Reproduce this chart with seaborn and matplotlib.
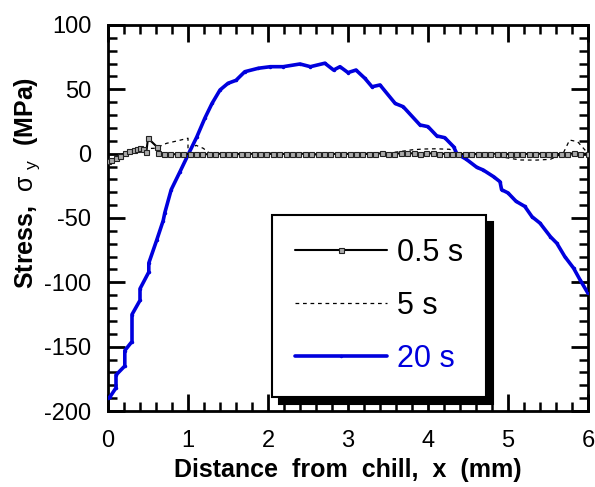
import matplotlib
matplotlib.use("Agg")
import matplotlib.pyplot as plt
import seaborn as sns
import pandas as pd
from matplotlib.ticker import MultipleLocator

# ---------------- data ----------------
t05_x = [0.0, 0.04, 0.1, 0.15, 0.21, 0.26, 0.32, 0.36, 0.4, 0.44, 0.48, 0.5, 0.61, 0.63,
         0.70, 0.78, 0.86, 0.94, 1.02, 1.10, 1.18, 1.26, 1.34, 1.42, 1.50, 1.58, 1.66, 1.74,
         1.82, 1.90, 1.98, 2.06, 2.14, 2.22, 2.30, 2.38, 2.46, 2.54, 2.62, 2.70, 2.78, 2.86,
         2.94, 3.02, 3.10, 3.18, 3.26, 3.34, 3.42, 3.50, 3.58, 3.66, 3.74, 3.82, 3.90, 3.98,
         4.06, 4.14, 4.22, 4.30, 4.38, 4.46, 4.54, 4.62, 4.70, 4.78, 4.86, 4.94, 5.02, 5.10,
         5.18, 5.26, 5.34, 5.42, 5.50, 5.58, 5.66, 5.74, 5.82, 5.90, 6.0]
t05_y = [-6, -5, -3.6, -2, 0.3, 2, 2.9, 3.5, 4.2, 3.8, 1.6, 12, 5.4, 0.3,
         0.0, -0.3, -0.5, -0.4, -0.2, 0.0, -0.3, -0.5, -0.3, 0.0, -0.2, -0.4, -0.3, 0.0,
         -0.2, -0.5, -0.3, -0.1, 0.0, -0.3, -0.4, -0.2, 0.0, -0.3, -0.5, -0.2, 0.0, -0.3,
         -0.4, -0.1, 0.0, -0.3, -0.2, 0.0, 0.2, 0.0, -0.2, 0.3, 0.4, 0.2, 0.0, 0.3,
         0.2, 0.0, -0.2, 0.0, -0.3, -0.2, 0.0, -0.3, -0.5, -0.2, 0.0, -0.3, -0.4, -0.2,
         0.0, -0.3, -0.2, 0.0, -0.3, -0.4, -0.2, 0.0, 0.2, 0.0, 0.0]

t5_x = [0.0, 0.1, 0.2, 0.3, 0.4, 0.5, 0.59, 0.73, 0.87, 1.0, 1.0, 1.1, 1.19, 1.27, 1.5,
        2.0, 2.5, 3.0, 3.5, 3.65, 3.8, 3.94, 4.1, 4.27, 4.36, 4.6, 4.9, 5.15, 5.35, 5.53,
        5.69, 5.77, 5.87, 5.96, 6.0]
t5_y = [-5, -3, 0, 2.5, 3.5, 4, 4.2, 8, 10, 12, 2, 6.5, 4.2, 0.3, 0,
        0.5, -1, 0, 0.5, 1.6, 3, 3.6, 3.8, 3.4, 0, -1, -2.3, -4.9, -5, -4.4,
        0.3, 10.6, 9.3, 3, 0]

t20_x = [0.0, 0.025, 0.1, 0.1, 0.21, 0.21, 0.3, 0.3, 0.4, 0.4, 0.51, 0.51, 0.61, 0.69,
         0.71, 0.79, 0.9, 1.0, 1.11, 1.21, 1.3, 1.4, 1.5, 1.6, 1.71, 1.88, 2.03, 2.19, 2.4,
         2.53, 2.71, 2.82, 2.9, 3.0, 3.1, 3.21, 3.3, 3.4, 3.59, 3.69, 3.9, 4.0, 4.11, 4.21,
         4.32, 4.36, 4.48, 4.61, 4.69, 4.82, 4.9, 4.92, 5.0, 5.1, 5.21, 5.3, 5.4, 5.53,
         5.61, 5.71, 5.82, 5.9, 6.0]
t20_y = [-190, -189, -182, -172, -165, -153, -146, -125, -114, -105, -92, -85, -67, -52,
         -46, -28, -14, -1, 13, 27.5, 39, 49.5, 54.7, 57, 63.7, 66.4, 67.6, 67.6, 69.7,
         67.6, 70.3, 65, 67.6, 63, 65, 58.6, 52, 53.4, 39, 36.5, 22.3, 21, 13.8, 12.4,
         5.4, 0, -4.4, -10.6, -12.7, -17.9, -21.8, -28, -30.5, -37, -41, -49, -54, -64.5,
         -69.6, -80, -89, -98, -108.5]

series_labels = ["0.5 s", "5 s", "20 s"]
x_ticks = [0, 1, 2, 3, 4, 5, 6]
y_ticks = [-200, -150, -100, -50, 0, 50, 100]

# ---------------- style ----------------
sns.set_style("ticks")
plt.rcParams["font.family"] = ["Liberation Sans", "DejaVu Sans"]
plt.rcParams["mathtext.fontset"] = "custom"
plt.rcParams["mathtext.rm"] = "Liberation Sans"
plt.rcParams["mathtext.it"] = "Liberation Sans"
plt.rcParams["mathtext.bf"] = "Liberation Sans:bold"
plt.rcParams["text.color"] = "black"
plt.rcParams["axes.labelcolor"] = "black"
plt.rcParams["xtick.color"] = "black"
plt.rcParams["ytick.color"] = "black"

BLUE = "#0000dd"

fig = plt.figure(figsize=(5.95, 4.87), dpi=100)
ax = fig.add_axes([108 / 595, 1 - 411 / 487, 480 / 595, 386 / 487])

df05 = pd.DataFrame({"x": t05_x, "y": t05_y})
df5 = pd.DataFrame({"x": t5_x, "y": t5_y})
df20 = pd.DataFrame({"x": t20_x, "y": t20_y})

sns.lineplot(data=df20, x="x", y="y", ax=ax, sort=False, estimator=None,
             color=BLUE, linewidth=2.6, marker="o", markersize=2.5,
             markeredgewidth=0, label=series_labels[2], zorder=3)
sns.lineplot(data=df5, x="x", y="y", ax=ax, sort=False, estimator=None,
             color="black", linewidth=0.9, linestyle=(0, (3, 3)),
             label=series_labels[1], zorder=2)
sns.lineplot(data=df05, x="x", y="y", ax=ax, sort=False, estimator=None,
             color="black", linewidth=1.5, marker="s", markersize=3.6,
             markerfacecolor="#aaaaaa", markeredgecolor="#222222",
             markeredgewidth=0.8, label=series_labels[0], zorder=4)

ax.set_xlim(0, 6)
ax.set_ylim(-200, 100)
ax.set_xticks(x_ticks)
ax.set_yticks(y_ticks)
ax.set_xticklabels([str(v) for v in x_ticks])
ax.set_yticklabels([str(v) for v in y_ticks])
ax.xaxis.set_minor_locator(MultipleLocator(0.2))
ax.yaxis.set_minor_locator(MultipleLocator(10))

for s in ax.spines.values():
    s.set_visible(True)
    s.set_linewidth(2.0)
    s.set_color("black")

ax.tick_params(which="major", direction="in", length=12, width=2.0,
               top=True, right=True, labelsize=17, colors="black")
ax.tick_params(which="minor", direction="in", length=6.5, width=1.8,
               top=True, right=True, colors="black")
ax.tick_params(axis="x", which="major", pad=14)
ax.tick_params(axis="y", which="major", pad=12)

ax.set_xlabel("Distance  from  chill,  x  (mm)", fontsize=18, fontweight="bold",
              labelpad=4, color="black")
ax.set_ylabel("")
fig.text(0.045, 0.625, r"Stress,  $\sigma\ _y$  (MPa)", rotation=90,
         fontsize=18, fontweight="bold", ha="center", va="center", color="black")

# legend
h, l = ax.get_legend_handles_labels()
order = [l.index(s) for s in series_labels]
leg = ax.legend([h[i] for i in order], [l[i] for i in order],
                loc="upper left", bbox_to_anchor=(0.342, 0.508),
                fontsize=22, frameon=True, fancybox=False,
                shadow={"ox": 5, "oy": -5, "color": "black", "alpha": 1.0},
                handlelength=3.0, handletextpad=0.35, labelspacing=0.75,
                borderpad=0.75, borderaxespad=0, numpoints=1)
leg.get_frame().set_edgecolor("black")
leg.get_frame().set_linewidth(1.5)
leg.get_frame().set_alpha(1.0)
for txt in leg.get_texts():
    txt.set_color(BLUE if txt.get_text() == "20 s" else "black")

fig.savefig("out.png", dpi=100)
